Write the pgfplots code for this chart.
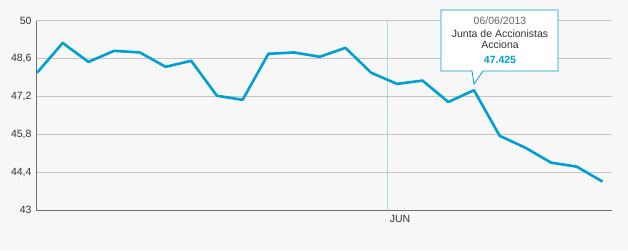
\documentclass[border=0pt]{standalone}
\usepackage{pgfplots}
\pgfplotsset{compat=1.18}
\usepackage{fontspec}
\setmainfont{Liberation Sans}
\definecolor{bg}{HTML}{F7F7F7}
\definecolor{ln}{HTML}{009FD4}
\definecolor{grd}{HTML}{CBC3C3}
\definecolor{axc}{HTML}{707070}
\definecolor{junc}{HTML}{A9D9EC}
\definecolor{txt}{HTML}{333333}
\begin{document}
\begin{tikzpicture}[x=1pt,y=1pt]
\fill[bg] (0,0) rectangle (628,250);
\useasboundingbox (0,0) rectangle (628,250);
\begin{axis}[
  at={(36pt,40pt)}, anchor=south west,
  scale only axis, width=576pt, height=189.5pt,
  xmin=-0.04, xmax=22.37, ymin=43, ymax=50,
  axis x line*=bottom, axis y line*=left,
  axis line style={axc, line width=0.8pt, -},
  major tick length=0pt,
  ytick={43,44.4,45.8,47.2,48.6,50},
  yticklabels={43,{44,4},{45,8},{47,2},{48,6},50},
  xtick={13.63}, xticklabels={JUN},
  ymajorgrids, xmajorgrids,
  every axis y grid/.style={draw=grd, line width=0.7pt},
  every axis x grid/.style={draw=junc, line width=0.7pt},
  /pgf/number format/assume math mode=true,
  tick label style={font=\fontsize{10.5}{12}\selectfont, text=txt},
  yticklabel style={xshift=-1pt},
  xticklabel style={anchor=north west, xshift=-1pt, yshift=-2pt},
  clip=false,
]
\addplot[ln, line width=2.6pt, line join=round] coordinates {
(0,48.07) (1,49.17) (2,48.47) (3,48.88) (4,48.82) (5,48.29) (6,48.51)
(7,47.22) (8,47.07) (9,48.77) (10,48.82) (11,48.66) (12,48.99) (13,48.07)
(14,47.66) (15,47.78) (16,46.99) (17,47.425) (18,45.74) (19,45.30)
(20,44.75) (21,44.60) (22,44.05)};
\end{axis}
% tooltip
\filldraw[fill=white, draw=ln, line width=0.8pt]
  (441,240) -- (558,240) -- (558,179) -- (483,179) -- (474,166) -- (472,179) -- (441,179) -- cycle;
\node[text=gray!80!black, font=\fontsize{10.5}{12}\selectfont] at (500,229) {06/06/2013};
\node[text=txt, font=\fontsize{10.5}{12}\selectfont] at (500,216) {Junta de Accionistas};
\node[text=txt, font=\fontsize{10.5}{12}\selectfont] at (500,205) {Acciona};
\node[text=ln, font=\bfseries\fontsize{10.5}{12}\selectfont] at (500,190) {47.425};
\end{tikzpicture}
\end{document}
